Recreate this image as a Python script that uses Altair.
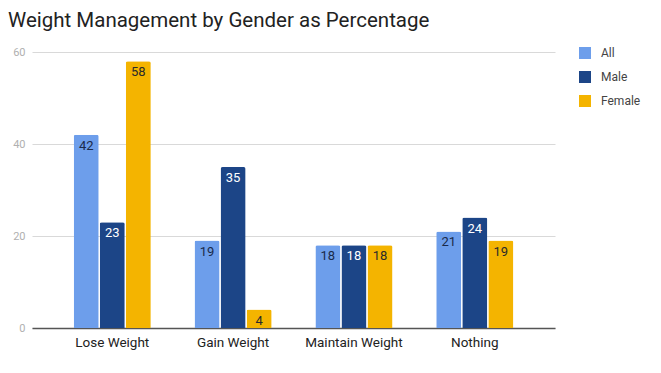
import altair as alt
import pandas as pd

categories = ["Lose Weight", "Gain Weight", "Maintain Weight", "Nothing"]
groups = ["All", "Male", "Female"]
all_vals = [42, 19, 18, 21]
male_vals = [23, 35, 18, 24]
female_vals = [58, 4, 18, 19]
colors = ["#6d9eeb", "#1c4587", "#f4b400"]
label_colors = ["#1a2a4a", "#ffffff", "#2a2a2a"]

rows = []
for i, c in enumerate(categories):
    for g, vals in zip(groups, [all_vals, male_vals, female_vals]):
        rows.append({"category": c, "group": g, "value": vals[i]})
df = pd.DataFrame(rows)

FONT = "Roboto"

x = alt.X("category:N", sort=categories, title=None,
          scale=alt.Scale(paddingInner=0.362, paddingOuter=0.345),
          axis=alt.Axis(labelAngle=0, labelFontSize=13.5, labelColor="#222222",
                        labelFont=FONT, ticks=False, domain=True, domainColor="#555555",
                        domainWidth=1.5, labelPadding=7))
xo = alt.XOffset("group:N", sort=groups, scale=alt.Scale(paddingInner=0.04, paddingOuter=0))
y = alt.Y("value:Q", title=None,
          scale=alt.Scale(domain=[0, 60], nice=False),
          axis=alt.Axis(values=[0, 20, 40, 60], labelFontSize=11, labelColor="#b0b0b0",
                        labelFont=FONT, ticks=False, domain=False, gridColor="#d9d9d9",
                        labelPadding=7))

bars = alt.Chart(df).mark_bar(cornerRadiusTopLeft=2, cornerRadiusTopRight=2).encode(
    x=x, xOffset=xo, y=y,
    color=alt.Color("group:N", sort=groups,
                    scale=alt.Scale(domain=groups, range=colors),
                    legend=alt.Legend(title=None, orient="none", legendX=547, legendY=-5,
                                      symbolType="square", symbolSize=144,
                                      symbolStrokeWidth=0, labelFontSize=12,
                                      labelFont=FONT, labelColor="#444444",
                                      rowPadding=12, labelOffset=10, padding=0)),
)

text = alt.Chart(df).mark_text(baseline="middle", dy=11, fontSize=13, font=FONT).encode(
    x=x, xOffset=xo, y=y,
    text=alt.Text("value:Q"),
    fill=alt.Fill("group:N", sort=groups,
                  scale=alt.Scale(domain=groups, range=label_colors), legend=None),
)

chart = alt.layer(bars, text).resolve_scale(fill="independent").properties(
    width=523, height=276,
    autosize=alt.AutoSizeParams(type="none"),
    padding={"left": 24, "top": 44, "right": 98, "bottom": 37},
    title=alt.TitleParams("Weight Management by Gender as Percentage", anchor="start",
                          frame="group", fontSize=20.5, fontWeight="normal", font=FONT,
                          color="#222222", dx=-24, offset=15),
).configure_view(stroke=None).configure_axisY(gridWidth=1)

chart.save("out.html", embed_options={"renderer": "svg", "actions": False})
